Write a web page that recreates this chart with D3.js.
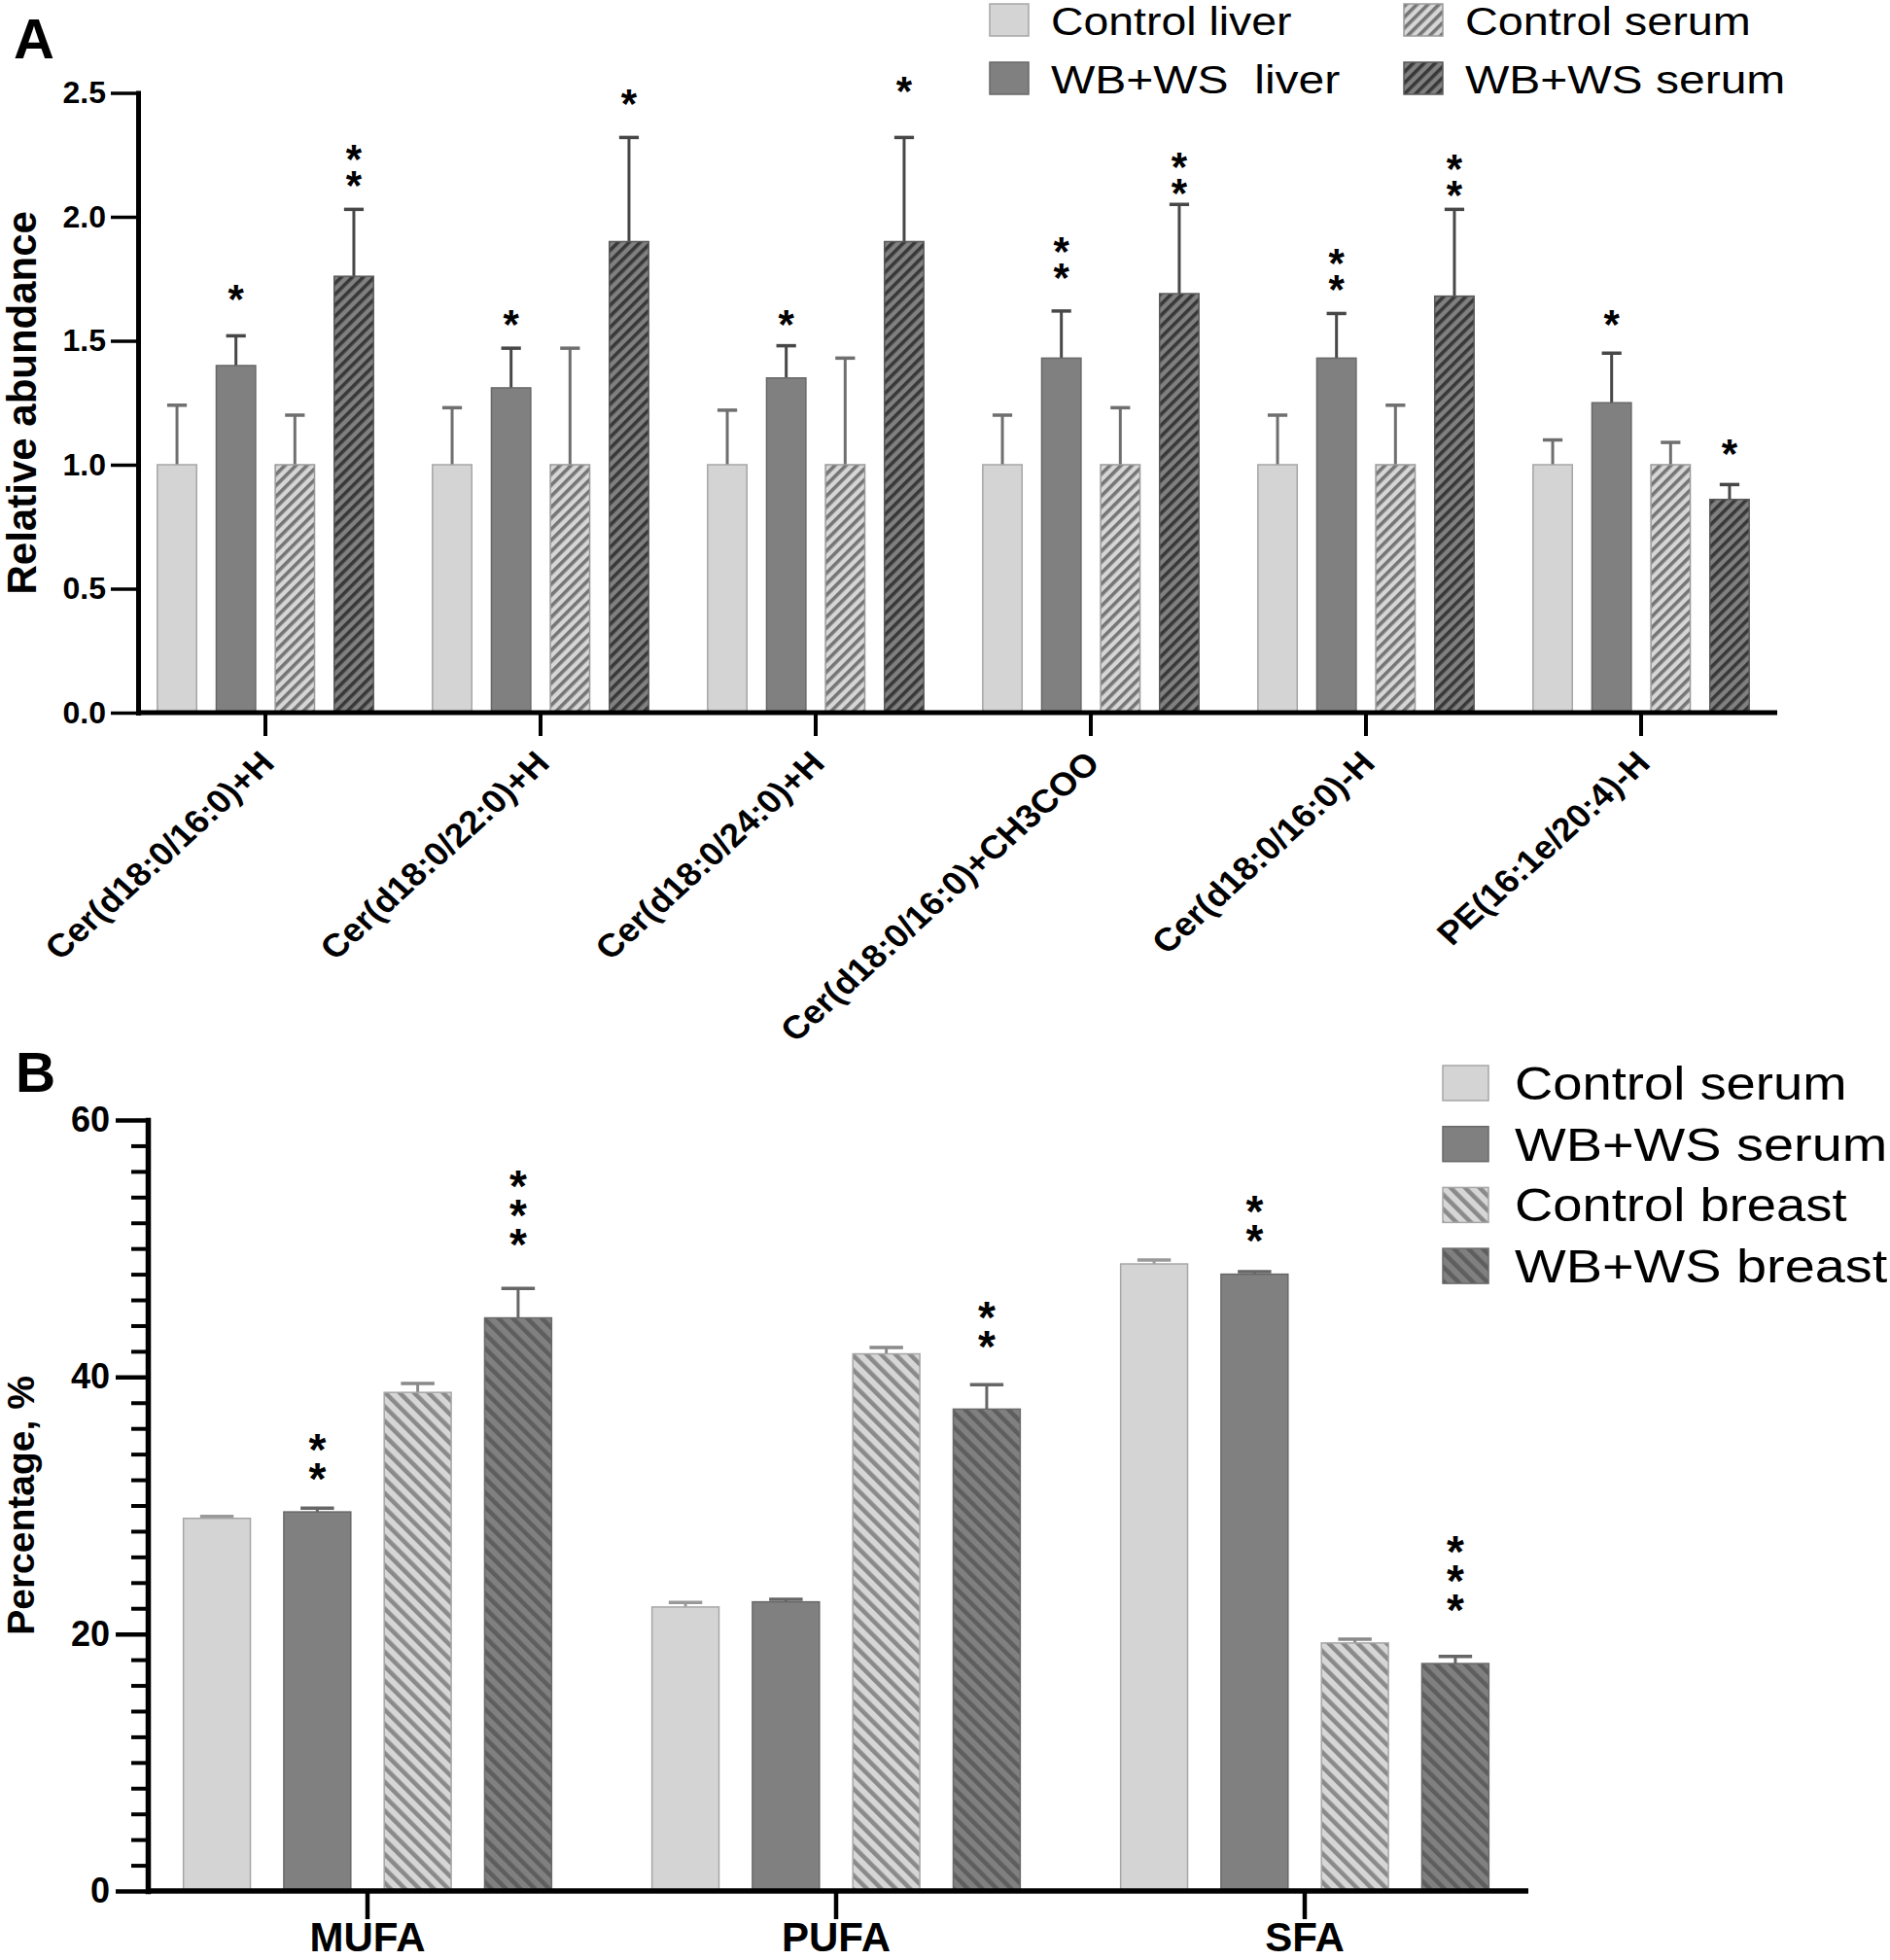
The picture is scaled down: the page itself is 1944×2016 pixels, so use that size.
<!DOCTYPE html>
<html>
<head>
<meta charset="utf-8">
<script src="https://cdn.jsdelivr.net/npm/d3@7"></script>
<style>
  html, body { margin: 0; padding: 0; background: #ffffff; }
  svg { display: block; }
  text { font-family: "Liberation Sans", Arial, Helvetica, sans-serif; fill: #000; }
</style>
</head>
<body>
<svg id="chart" width="1944" height="2016"></svg>
<script>
// ---------------- DATA: panel A ----------------
const lipidCategories = ["Cer(d18:0/16:0)+H", "Cer(d18:0/22:0)+H", "Cer(d18:0/24:0)+H",
                         "Cer(d18:0/16:0)+CH3COO", "Cer(d18:0/16:0)-H", "PE(16:1e/20:4)-H"];
const lipidSeries = ["Control liver", "WB+WS  liver", "Control serum", "WB+WS serum"];
const controlLiverMean = [1.00, 1.00, 1.00, 1.00, 1.00, 1.00];
const controlLiverErr  = [0.24, 0.23, 0.22, 0.20, 0.20, 0.10];
const wbLiverMean      = [1.40, 1.31, 1.35, 1.43, 1.43, 1.25];
const wbLiverErr       = [0.12, 0.16, 0.13, 0.19, 0.18, 0.20];
const controlSerumMean = [1.00, 1.00, 1.00, 1.00, 1.00, 1.00];
const controlSerumErr  = [0.20, 0.47, 0.43, 0.23, 0.24, 0.09];
const wbSerumMean      = [1.76, 1.90, 1.90, 1.69, 1.68, 0.86];
const wbSerumErr       = [0.27, 0.42, 0.42, 0.36, 0.35, 0.06];
// significance marks and the value level (axis units) of the lowest mark
const wbLiverStars      = ["*", "*", "*", "**", "**", "*"];
const wbLiverStarLevel  = [1.70, 1.60, 1.60, 1.79, 1.74, 1.60];
const wbSerumStars      = ["**", "*", "*", "**", "**", "*"];
const wbSerumStarLevel  = [2.16, 2.49, 2.54, 2.13, 2.12, 1.08];
const yTicksA = [0, 0.5, 1.0, 1.5, 2.0, 2.5];

// ---------------- DATA: panel B ----------------
const faCategories = ["MUFA", "PUFA", "SFA"];
const faSeries = ["Control serum", "WB+WS serum", "Control breast", "WB+WS breast"];
const ctrlSerumPct     = [29.0, 22.1, 48.8];
const ctrlSerumPctErr  = [0.15, 0.35, 0.30];
const wbSerumPct       = [29.5, 22.5, 48.0];
const wbSerumPctErr    = [0.30, 0.20, 0.20];
const ctrlBreastPct    = [38.8, 41.8, 19.3];
const ctrlBreastPctErr = [0.70, 0.50, 0.30];
const wbBreastPct      = [44.6, 37.5, 17.7];
const wbBreastPctErr   = [2.30, 1.90, 0.55];
const wbSerumPctStars       = ["**", "", "**"];
const wbSerumPctStarLevel   = [32.8, 0, 51.3];
const wbBreastPctStars      = ["***", "**", "***"];
const wbBreastPctStarLevel  = [51.0, 43.1, 22.6];
const yTicksB = [0, 20, 40, 60];
const yMinorTicksB = d3.range(0, 61, 2);

// ---------------- STYLES ----------------
const LIGHT = "#d4d4d4", LIGHT_STROKE = "#a6a6a6";
const DARK = "#808080", DARK_STROKE = "#686868";
const FONT = '"Liberation Sans", Arial, Helvetica, sans-serif';

const svg = d3.select("#chart");
svg.append("rect").attr("width", 1944).attr("height", 2016).attr("fill", "#fff");

const defs = svg.append("defs");
function stripes(id, bg, fg, angle, period, stripeW) {
  const p = defs.append("pattern").attr("id", id)
    .attr("patternUnits", "userSpaceOnUse")
    .attr("width", period).attr("height", period)
    .attr("patternTransform", `rotate(${angle})`);
  p.append("rect").attr("width", period).attr("height", period).attr("fill", bg);
  p.append("rect").attr("width", stripeW).attr("height", period).attr("fill", fg);
}
stripes("aCtrlSerum", "#d6d6d6", "#757575", 45, 8, 3.6);
stripes("aWbSerum", "#808080", "#383838", 45, 8, 3.6);
stripes("bCtrlBreast", "#d6d6d6", "#8a8a8a", -45, 10.5, 4.5);
stripes("bWbBreast", "#808080", "#5e5e5e", -45, 10.5, 4.5);

function stretchText(sel, factor) {
  sel.each(function () {
    const t = d3.select(this);
    const x = +t.attr("x"), y = +t.attr("y");
    t.attr("transform", `translate(${x},${y}) scale(${factor},1)`).attr("x", 0).attr("y", 0);
  });
}

// stack of stars (one text element), lowest star centred at yBottom, going upward
function drawStars(g, x, yBottom, stars, spacing, size) {
  const t = g.append("text").attr("text-anchor", "middle").attr("font-size", size)
    .attr("font-weight", "bold").attr("x", x).attr("y", 0);
  const probe = t.append("tspan").attr("x", x).attr("y", 0).text("*");
  const bb = t.node().getBBox();
  const cy = bb.y + bb.height * 0.32;
  probe.remove();
  for (let i = 0; i < stars.length; i++) {
    t.append("tspan").attr("x", x).attr("y", yBottom - (stars.length - 1 - i) * spacing - cy).text("*");
  }
}

// =============== PANEL A ===============
const gA = svg.append("g");
gA.append("text").attr("x", 14).attr("y", 60).attr("font-size", 58).attr("font-weight", "bold").text("A");

const yA = d3.scaleLinear().domain([0, 2.5]).range([733, 95.5]);
const xA = d3.scaleBand().domain(lipidCategories).range([131.5, 1829.5]);
const xAin = d3.scaleBand().domain(lipidSeries).range([0, xA.bandwidth()])
  .paddingInner(0.333).paddingOuter(0.5);
const axisXA = 142;

const seriesA = [
  { key: lipidSeries[0], mean: controlLiverMean, err: controlLiverErr, fill: LIGHT, stroke: LIGHT_STROKE, ebar: "#6f6f6f", stars: null },
  { key: lipidSeries[1], mean: wbLiverMean, err: wbLiverErr, fill: DARK, stroke: DARK_STROKE, ebar: "#474747", stars: wbLiverStars, level: wbLiverStarLevel },
  { key: lipidSeries[2], mean: controlSerumMean, err: controlSerumErr, fill: "url(#aCtrlSerum)", stroke: "#9a9a9a", ebar: "#6f6f6f", stars: null },
  { key: lipidSeries[3], mean: wbSerumMean, err: wbSerumErr, fill: "url(#aWbSerum)", stroke: "#5a5a5a", ebar: "#474747", stars: wbSerumStars, level: wbSerumStarLevel }
];

seriesA.forEach(s => {
  const g = gA.append("g");
  lipidCategories.forEach((c, i) => {
    const x0 = xA(c) + xAin(s.key);
    const w = xAin.bandwidth();
    const cx = x0 + w / 2;
    const top = yA(s.mean[i] + s.err[i]);
    g.append("line").attr("x1", cx).attr("x2", cx).attr("y1", yA(s.mean[i])).attr("y2", top)
      .attr("stroke", s.ebar).attr("stroke-width", 3);
    g.append("line").attr("x1", cx - w / 4).attr("x2", cx + w / 4).attr("y1", top).attr("y2", top)
      .attr("stroke", s.ebar).attr("stroke-width", 3.5);
    g.append("rect").attr("x", x0).attr("y", yA(s.mean[i]))
      .attr("width", w).attr("height", yA(0) - yA(s.mean[i]))
      .attr("fill", s.fill).attr("stroke", s.stroke).attr("stroke-width", 1.5);
    if (s.stars && s.stars[i]) drawStars(g, cx, yA(s.level[i]), s.stars[i], 27, 42);
  });
});

// y axis A
const yAxisA = gA.append("g").attr("transform", `translate(${axisXA},0)`)
  .call(d3.axisLeft(yA).tickValues(yTicksA).tickFormat(d3.format(".1f")).tickSize(28).tickSizeOuter(0).tickPadding(5));
yAxisA.select(".domain").attr("stroke", "#000").attr("stroke-width", 5).attr("stroke-linecap", "square");
yAxisA.selectAll(".tick line").attr("stroke", "#000").attr("stroke-width", 3.5);
yAxisA.selectAll(".tick text").attr("font-size", 32).attr("font-weight", "bold").attr("font-family", FONT).attr("fill", "#000");

// x axis A
gA.append("line").attr("x1", axisXA).attr("x2", 1828).attr("y1", yA(0)).attr("y2", yA(0))
  .attr("stroke", "#000").attr("stroke-width", 5);
const xAxisA = gA.append("g").attr("transform", `translate(0,${yA(0)})`)
  .call(d3.axisBottom(xA).tickSize(24).tickSizeOuter(0).tickFormat(""));
xAxisA.select(".domain").remove();
xAxisA.selectAll(".tick line").attr("stroke", "#000").attr("stroke-width", 4);
lipidCategories.forEach(c => {
  const cx = xA(c) + xA.bandwidth() / 2;
  gA.append("text").attr("text-anchor", "end").attr("font-size", 33.5).attr("font-weight", "bold")
    .attr("transform", `translate(${cx + 11},${yA(0) + 54}) scale(1.1,1) rotate(-45)`).text(c);
});

// y label A
gA.append("text").attr("text-anchor", "middle").attr("font-size", 42).attr("font-weight", "bold")
  .attr("transform", `translate(37,${(yA(0) + yA(2.5)) / 2}) rotate(-90)`).text("Relative abundance");

// legend A
const legendA = [
  { label: lipidSeries[0], fill: LIGHT, stroke: LIGHT_STROKE, x: 1018, y: 4, k: 1.16 },
  { label: lipidSeries[1], fill: DARK, stroke: DARK_STROKE, x: 1018, y: 64, k: 1.2 },
  { label: lipidSeries[2], fill: "url(#aCtrlSerum)", stroke: "#9a9a9a", x: 1444, y: 4, k: 1.17 },
  { label: lipidSeries[3], fill: "url(#aWbSerum)", stroke: "#5a5a5a", x: 1444, y: 64, k: 1.2 }
];
legendA.forEach(d => {
  gA.append("rect").attr("x", d.x).attr("y", d.y).attr("width", 40).attr("height", 33)
    .attr("fill", d.fill).attr("stroke", d.stroke).attr("stroke-width", 1.5);
  gA.append("text").attr("x", d.x + 63).attr("y", d.y + 32).attr("font-size", 40)
    .attr("xml:space", "preserve").style("white-space", "pre").text(d.label)
    .call(stretchText, d.k);
});

// =============== PANEL B ===============
const gB = svg.append("g");
gB.append("text").attr("x", 16).attr("y", 1123).attr("font-size", 57).attr("font-weight", "bold").text("B");

const yB = d3.scaleLinear().domain([0, 60]).range([1945, 1152]);
const xB = d3.scaleBand().domain(faCategories).range([137, 1583]);
const xBin = d3.scaleBand().domain(faSeries).range([0, xB.bandwidth()])
  .paddingInner(0.333).paddingOuter(0.5);
const axisXB = 152;

const seriesB = [
  { key: faSeries[0], mean: ctrlSerumPct, err: ctrlSerumPctErr, fill: LIGHT, stroke: LIGHT_STROKE, ebar: "#9a9a9a", stars: null },
  { key: faSeries[1], mean: wbSerumPct, err: wbSerumPctErr, fill: DARK, stroke: DARK_STROKE, ebar: "#666666", stars: wbSerumPctStars, level: wbSerumPctStarLevel },
  { key: faSeries[2], mean: ctrlBreastPct, err: ctrlBreastPctErr, fill: "url(#bCtrlBreast)", stroke: "#a6a6a6", ebar: "#8a8a8a", stars: null },
  { key: faSeries[3], mean: wbBreastPct, err: wbBreastPctErr, fill: "url(#bWbBreast)", stroke: "#6a6a6a", ebar: "#666666", stars: wbBreastPctStars, level: wbBreastPctStarLevel }
];

seriesB.forEach(s => {
  const g = gB.append("g");
  faCategories.forEach((c, i) => {
    const x0 = xB(c) + xBin(s.key);
    const w = xBin.bandwidth();
    const cx = x0 + w / 2;
    const top = yB(s.mean[i] + s.err[i]);
    g.append("line").attr("x1", cx).attr("x2", cx).attr("y1", yB(s.mean[i])).attr("y2", top)
      .attr("stroke", s.ebar).attr("stroke-width", 3);
    g.append("line").attr("x1", cx - w / 4).attr("x2", cx + w / 4).attr("y1", top).attr("y2", top)
      .attr("stroke", s.ebar).attr("stroke-width", 3.5);
    g.append("rect").attr("x", x0).attr("y", yB(s.mean[i]))
      .attr("width", w).attr("height", yB(0) - yB(s.mean[i]))
      .attr("fill", s.fill).attr("stroke", s.stroke).attr("stroke-width", 1.5);
    if (s.stars && s.stars[i]) drawStars(g, cx, yB(s.level[i]), s.stars[i], 30, 46);
  });
});

// y axis B (minor + major)
const yAxisBminor = gB.append("g").attr("transform", `translate(${axisXB},0)`)
  .call(d3.axisLeft(yB).tickValues(yMinorTicksB.filter(v => v % 20 !== 0)).tickSize(17).tickSizeOuter(0).tickFormat(""));
yAxisBminor.select(".domain").remove();
yAxisBminor.selectAll(".tick line").attr("stroke", "#000").attr("stroke-width", 4);
const yAxisB = gB.append("g").attr("transform", `translate(${axisXB},0)`)
  .call(d3.axisLeft(yB).tickValues(yTicksB).tickFormat(d3.format("d")).tickSize(33).tickSizeOuter(0).tickPadding(6));
yAxisB.select(".domain").attr("stroke", "#000").attr("stroke-width", 5.5).attr("stroke-linecap", "square");
yAxisB.selectAll(".tick line").attr("stroke", "#000").attr("stroke-width", 4.5);
yAxisB.selectAll(".tick text").attr("font-size", 36).attr("font-weight", "bold").attr("font-family", FONT).attr("fill", "#000");

// x axis B
gB.append("line").attr("x1", axisXB).attr("x2", 1572).attr("y1", yB(0)).attr("y2", yB(0))
  .attr("stroke", "#000").attr("stroke-width", 5.5);
const xAxisB = gB.append("g").attr("transform", `translate(0,${yB(0)})`)
  .call(d3.axisBottom(xB).tickSize(29).tickSizeOuter(0).tickPadding(3));
xAxisB.select(".domain").remove();
xAxisB.selectAll(".tick line").attr("stroke", "#000").attr("stroke-width", 4.5);
xAxisB.selectAll(".tick text").attr("font-size", 42).attr("font-weight", "bold").attr("font-family", FONT).attr("fill", "#000");

// y label B
gB.append("text").attr("text-anchor", "middle").attr("font-size", 39).attr("font-weight", "bold")
  .attr("transform", `translate(35,${(yB(0) + yB(60)) / 2}) rotate(-90)`).text("Percentage, %");

// legend B
const legendB = [
  { label: faSeries[0], fill: LIGHT, stroke: LIGHT_STROKE, k: 1.11 },
  { label: faSeries[1], fill: DARK, stroke: DARK_STROKE, k: 1.14 },
  { label: faSeries[2], fill: "url(#bCtrlBreast)", stroke: "#a6a6a6", k: 1.11 },
  { label: faSeries[3], fill: "url(#bWbBreast)", stroke: "#6a6a6a", k: 1.14 }
];
legendB.forEach((d, i) => {
  const y = 1096 + i * 62.7;
  gB.append("rect").attr("x", 1484).attr("y", y).attr("width", 47).attr("height", 36)
    .attr("fill", d.fill).attr("stroke", d.stroke).attr("stroke-width", 1.5);
  gB.append("text").attr("x", 1558).attr("y", y + 35).attr("font-size", 49).text(d.label)
    .call(stretchText, d.k);
});
</script>
</body>
</html>
